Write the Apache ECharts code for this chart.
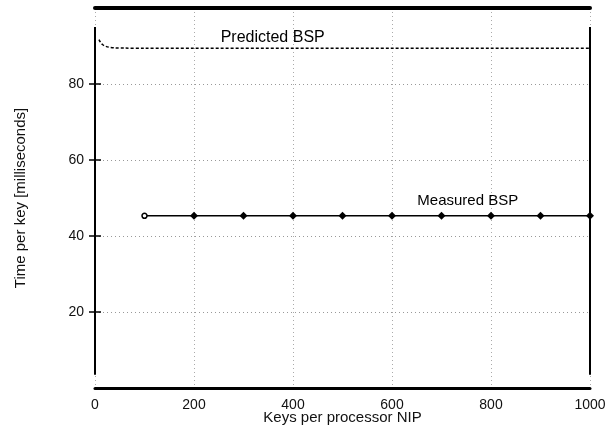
<!DOCTYPE html>
<html>
<head>
<meta charset="utf-8">
<script src="https://cdn.jsdelivr.net/npm/echarts@6/dist/echarts.min.js"></script>
<style>html,body{margin:0;padding:0;background:#fff;}#c{width:613px;height:427px;}</style>
</head>
<body>
<div id="c"></div>
<script>
var xTicks = [0, 200, 400, 600, 800, 1000];
var yTicks = [20, 40, 60, 80];
var predX = [8, 11, 15, 20, 28, 40, 60, 100, 200, 400, 600, 800, 1000];
var predY = [91.7, 91.0, 90.4, 90.0, 89.7, 89.5, 89.45, 89.4, 89.4, 89.4, 89.4, 89.4, 89.4];
var measX = [100, 200, 300, 400, 500, 600, 700, 800, 900, 1000];
var measY = [45.3, 45.3, 45.3, 45.3, 45.3, 45.3, 45.3, 45.3, 45.3, 45.3];
var labels = [{text: 'Predicted BSP', x: 359, y: 92.3, size: 16}, {text: 'Measured BSP', x: 753, y: 49.2, size: 15}];

var font = 'Liberation Sans, Arial, sans-serif';
var chart = echarts.init(document.getElementById('c'));
var predData = predX.map(function (x, i) { return [x, predY[i]]; });
var measData = measX.map(function (x, i) {
  var d = {value: [x, measY[i]]};
  if (i === 0) { d.symbol = 'circle'; d.symbolSize = 5; d.itemStyle = {color: '#fff', borderColor: '#000', borderWidth: 1.5}; }
  return d;
});
chart.setOption({
  animation: false,
  backgroundColor: '#fff',
  grid: {left: 95, right: 23, top: 8, bottom: 39, containLabel: false, outerBoundsMode: 'none'},
  xAxis: [{
    type: 'value', min: 0, max: 1000, interval: 200,
    axisLine: {show: true, onZero: false, lineStyle: {color: '#000', width: 3}},
    axisTick: {show: false},
    axisLabel: {color: '#111', fontFamily: font, fontSize: 14, margin: 10,
      customValues: xTicks, formatter: function (v) { return String(v); }},
    splitLine: {show: true, lineStyle: {color: '#aaa', type: [1, 3], width: 1}},
    name: 'Keys per processor NIP', nameLocation: 'middle', nameGap: 30, nameMoveOverlap: false,
    nameTextStyle: {color: '#111', fontFamily: font, fontSize: 15, verticalAlign: 'middle'}
  }, {
    type: 'value', min: 0, max: 1000, position: 'top',
    axisLine: {show: true, onZero: false, lineStyle: {color: '#000', width: 4}},
    axisTick: {show: false}, axisLabel: {show: false}, splitLine: {show: false}
  }],
  yAxis: [{
    type: 'value', min: 0, max: 100, interval: 20,
    axisLine: {show: false},
    axisTick: {show: true, inside: true, length: 6, customValues: yTicks, lineStyle: {color: '#000', width: 1.5}},
    axisLabel: {color: '#111', fontFamily: font, fontSize: 14, margin: 11, customValues: yTicks},
    splitLine: {show: true, lineStyle: {color: '#999', type: [1, 3], width: 1}},
    name: 'Time per key [milliseconds]', nameLocation: 'middle', nameGap: 74, nameRotate: 90, nameMoveOverlap: false,
    nameTextStyle: {color: '#111', fontFamily: font, fontSize: 15, verticalAlign: 'middle'}
  }, {
    type: 'value', min: 0, max: 100, interval: 20, position: 'right',
    axisLine: {show: false},
    axisTick: {show: true, inside: true, length: 6, customValues: yTicks, lineStyle: {color: '#000', width: 1.5}},
    axisLabel: {show: false}, splitLine: {show: false}
  }],
  series: [{
    type: 'line', data: predData, smooth: 0.3, showSymbol: false,
    lineStyle: {color: '#000', width: 1.5, type: [3, 2]},
    markPoint: {
      symbol: 'circle', symbolSize: 0,
      label: {show: true, position: 'inside', color: '#000', fontFamily: font, formatter: '{b}'},
      data: labels.map(function (l) { return {name: l.text, coord: [l.x, l.y], label: {fontSize: l.size}}; })
    },
    markLine: {
      silent: true, symbol: 'none', label: {show: false},
      lineStyle: {color: '#000', width: 2, type: 'solid'},
      data: [[{coord: [0, 3.5]}, {coord: [0, 95]}], [{coord: [1000, 3.5]}, {coord: [1000, 95]}]]
    }
  }, {
    type: 'line', data: measData, symbol: 'diamond', symbolSize: 8,
    itemStyle: {color: '#000'},
    lineStyle: {color: '#000', width: 1.5}
  }]
});
</script>
</body>
</html>
